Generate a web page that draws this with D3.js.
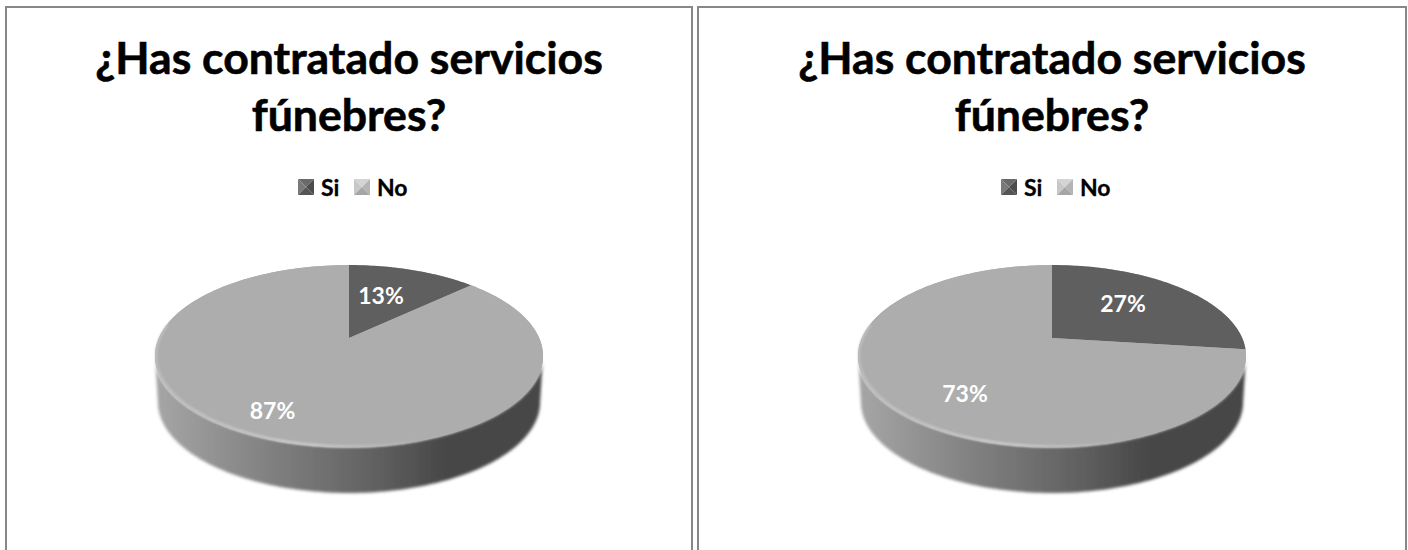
<!DOCTYPE html>
<html><head><meta charset="utf-8">
<script src="https://cdn.jsdelivr.net/npm/d3@7"></script>
<style>html,body{margin:0;padding:0;background:#fff}svg{display:block}text{font-family:Lato,"Open Sans",sans-serif;font-weight:700}</style>
</head><body><svg id="c" width="1408" height="550"></svg>
<script>
const categories = ["Si", "No"];
const chartValues = [[13, 87], [27, 73]];
const titleLines = ["¿Has contratado servicios", "fúnebres?"];
const colors = ["#5f5f5f", "#adadad"];
const svg = d3.select("#c");
const defs = svg.append("defs");
const frames = [{x0:6,x1:692,cx:349},{x0:698,x1:1406,cx:1052}];
const k = 0.198, A = 190.2, B = 87.4, apexY = 338, depth = 46;
const labelPos = [[{dx:32,y:304},{dx:-76.5,y:419}],[{dx:71,y:312},{dx:-87,y:402}]];

const sideGrad = defs.append("linearGradient").attr("id","side");
[[0,"#a6a6a6"],[0.3,"#808080"],[0.55,"#636363"],[0.75,"#474747"],[1,"#474747"]].forEach(s=>sideGrad.append("stop").attr("offset",s[0]).attr("stop-color",s[1]));
const blur = defs.append("filter").attr("id","soft").attr("x","-5%").attr("y","-5%").attr("width","110%").attr("height","115%");
blur.append("feGaussianBlur").attr("stdDeviation",1.7);
const rim = defs.append("filter").attr("id","rim").attr("x","-5%").attr("y","-5%").attr("width","110%").attr("height","115%");
rim.append("feGaussianBlur").attr("stdDeviation",0.8);
const edgeBlur = defs.append("filter").attr("id","edge").attr("x","-3%").attr("y","-3%").attr("width","106%").attr("height","106%");
edgeBlur.append("feGaussianBlur").attr("stdDeviation",0.6);
const rimGrad = defs.append("linearGradient").attr("id","rimFade");
[[0,"#c8c8c8"],[0.6,"#d8d8d8"],[1,"#adadad"]].forEach(s=>rimGrad.append("stop").attr("offset",s[0]).attr("stop-color",s[1]));

// perspective projection of the pie disc: angle clockwise from 12 o'clock
const project = (a,r=1) => { const u=r*Math.sin(a), v=-r*Math.cos(a), w=1-k*v; return [A*u/w, B*v/w+apexY]; };
const tau = 2*Math.PI;
const angles = d3.range(0,361,2).map(d=>d*Math.PI/180);
const line = d3.line();

frames.forEach((f,i)=>{
  const g = svg.append("g");
  g.append("path").attr("d",`M${f.x0},550V7H${f.x1}V550`).attr("fill","none").attr("stroke","#888").attr("stroke-width",2);
  titleLines.forEach((t,j)=>g.append("text").attr("x",f.cx).attr("y",74+j*57).attr("text-anchor","middle").attr("font-size",44.6).attr("fill","#000").attr("stroke","#000").attr("stroke-width",0.6).text(t));
  // legend
  const lx=[f.cx-51,f.cx+5];
  categories.forEach((c,j)=>{
    const x=lx[j], y=179, s=16;
    const lg=g.append("g");
    const tones=j==0?["#7a7a7a","#555","#6a6a6a","#4c4c4c"]:["#c8c8c8","#a6a6a6","#d4d4d4","#b4b4b4"];
    const cc=[x+s/2,y+s/2];
    [[[x,y],[x+s,y]],[[x,y],[x,y+s]],[[x+s,y],[x+s,y+s]],[[x,y+s],[x+s,y+s]]].forEach((e,m)=>{
      lg.append("path").attr("d",line([e[0],e[1],cc])+"Z").attr("fill",tones[[2,0,3,1][m]]);
    });
    g.append("text").attr("x",x+s+7).attr("y",196).attr("font-size",23).attr("stroke","#000").attr("stroke-width",0.3).text(c);
  });
  // disc geometry
  const cxg=svg.append("g").attr("transform",`translate(${f.cx},0)`);
  const edge=angles.map(a=>project(a));
  const wideT=Math.acos(-k);
  const front=d3.range(wideT,tau-wideT+0.001,0.02);
  const sideTop=front.map(a=>project(a));
  const sideBot=front.slice().reverse().map(a=>{const p=project(a);return [p[0]*0.985,p[1]+depth];});
  cxg.append("path").attr("d",line(sideTop.concat(sideBot))+"Z").attr("fill","url(#side)").attr("filter","url(#soft)");
  const top=cxg.append("g").attr("filter","url(#edge)");
  top.append("path").attr("d",line(edge)+"Z").attr("fill",colors[1]);
  // slices
  const pie=d3.pie().sort(null).value(d=>d)(chartValues[i]);
  pie.forEach((s,j)=>{
    const pts=d3.range(s.startAngle,s.endAngle,0.02).concat([s.endAngle]).map(a=>project(a));
    top.append("path").attr("d",line([[0,apexY],...pts])+"Z").attr("fill",colors[j]);
  });
  // rim highlight on the front-left of the disc, fading out at the front
  const rimArc=d3.range(Math.PI*0.9,Math.PI*1.55,0.02).map(a=>project(a,0.995));
  const rimEnd=project(Math.PI*0.9,0.995), rimStart=project(Math.PI*1.55,0.995);
  cxg.append("path").attr("d",line(rimArc)).attr("fill","none").attr("stroke","url(#rimFade)").attr("stroke-width",1.6).attr("filter","url(#rim)");
  pie.forEach((s,j)=>{
    const lp=labelPos[i][j];
    cxg.append("text").attr("x",lp.dx).attr("y",lp.y).attr("text-anchor","middle").attr("font-size",23).attr("fill","#fff").text(s.data+"%");
  });
});
</script></body></html>
